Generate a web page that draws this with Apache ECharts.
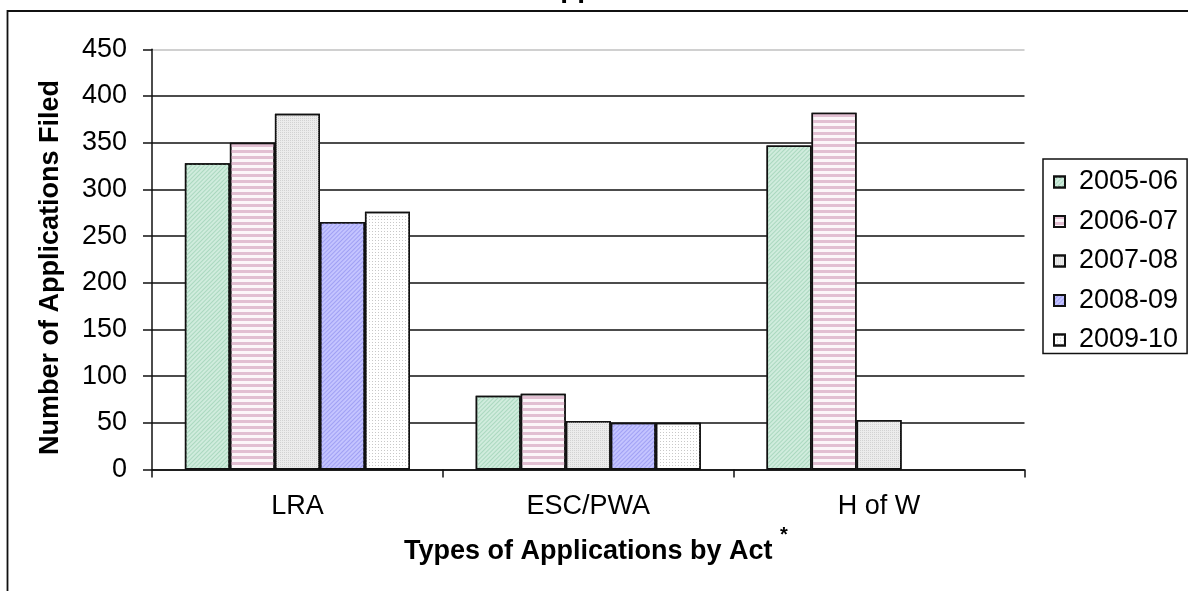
<!DOCTYPE html>
<html>
<head>
<meta charset="utf-8">
<script src="https://cdn.jsdelivr.net/npm/echarts@6/dist/echarts.min.js"></script>
<style>
html,body{margin:0;padding:0;background:#fff;}
#c{width:1188px;height:591px;}
</style>
</head>
<body>
<div id="c"></div>
<script>
var categories = ['LRA', 'ESC/PWA', 'H of W'];
var seriesNames = ['2005-06', '2006-07', '2007-08', '2008-09', '2009-10'];
var v2005 = [328, 79, 347];
var v2006 = [350, 81, 382];
var v2007 = [381, 52, 53];
var v2008 = [265, 50, null];
var v2009 = [276, 50, null];
var yTicks = [0, 50, 100, 150, 200, 250, 300, 350, 400, 450];

var FONT = '"Liberation Sans", Arial, sans-serif';
var values = [v2005, v2006, v2007, v2008, v2009];
var fills = [
  {color: '#d0ecdd', decal: {symbol: 'rect', symbolSize: 1, color: '#aad8bf', dashArrayX: [1, 0], dashArrayY: [1, 2], rotation: -Math.PI / 4}},
  {color: '#fcf6f9', decal: {symbol: 'rect', symbolSize: 1, color: '#e2bfd2', dashArrayX: [1, 0], dashArrayY: [3, 3], rotation: 0}},
  {color: '#ececec', decal: {symbol: 'rect', symbolSize: 1, color: '#d2d2d2', dashArrayX: [1, 1], dashArrayY: [1, 1], rotation: 0}},
  {color: '#c4c4ff', decal: {symbol: 'rect', symbolSize: 1, color: '#a0a0f4', dashArrayX: [1, 0], dashArrayY: [1, 2], rotation: -Math.PI / 4}},
  {color: '#ffffff', decal: {symbol: 'rect', symbolSize: 1, color: '#c8c8c8', dashArrayX: [1, 2], dashArrayY: [1, 2], rotation: 0}}
];

var series = seriesNames.map(function (n, i) {
  return {
    name: n,
    type: 'bar',
    data: values[i],
    barGap: '0%',
    barCategoryGap: '22.6%',
    itemStyle: {color: fills[i].color, decal: fills[i].decal, borderColor: '#111', borderWidth: 1.5},
    emphasis: {disabled: true},
    z: 3
  };
});

var gridColors = yTicks.map(function (t, i) { return i === yTicks.length - 1 ? '#c0c0c0' : '#111'; });

var chart = echarts.init(document.getElementById('c'), null, {renderer: 'canvas'});
chart.setOption({
  animation: false,
  backgroundColor: '#fff',
  textStyle: {fontFamily: FONT},
  grid: {left: 152, right: 163.5, top: 49.3, bottom: 121.5, containLabel: false},
  xAxis: {
    type: 'category',
    data: categories,
    name: 'Types of Applications by Act',
    nameLocation: 'middle',
    nameGap: 69,
    nameTextStyle: {fontSize: 27, fontWeight: 'bold', color: '#000', fontFamily: FONT},
    axisLine: {lineStyle: {color: '#111', width: 1.5}},
    axisTick: {show: true, length: 8, lineStyle: {color: '#111', width: 1.5}},
    axisLabel: {fontSize: 27, color: '#000', margin: 24, fontFamily: FONT},
    splitLine: {show: false}
  },
  yAxis: {
    type: 'value',
    min: 0,
    max: 450,
    interval: 50,
    name: 'Number of Applications Filed',
    nameLocation: 'middle',
    nameGap: 88,
    nameRotate: 90,
    nameTextStyle: {fontSize: 27, fontWeight: 'bold', color: '#000', fontFamily: FONT, padding: [0, 16, 0, 0]},
    axisLine: {show: true, lineStyle: {color: '#111', width: 1.5}},
    axisTick: {show: true, length: 9, lineStyle: {color: '#111', width: 1.5}},
    axisLabel: {fontSize: 27, color: '#000', margin: 25, fontFamily: FONT},
    splitLine: {show: true, lineStyle: {color: gridColors, width: 1.5}}
  },
  legend: {
    orient: 'vertical',
    left: 1043,
    top: 159,
    data: seriesNames,
    icon: 'rect',
    itemWidth: 11,
    itemHeight: 11,
    itemGap: 12.5,
    padding: [9.5, 9, 0, 10],
    borderColor: '#111',
    borderWidth: 1.5,
    textStyle: {fontSize: 27, color: '#000', padding: [0, 0, 0, 9], fontFamily: FONT},
    selectedMode: false
  },
  graphic: [
    {type: 'rect', z: -1, silent: true, shape: {x: 7.5, y: 11, width: 1300, height: 700}, style: {fill: 'none', stroke: '#111', lineWidth: 1.8}},
    {type: 'text', silent: true, style: {text: 'Applications', x: 540, y: 3, textAlign: 'left', textVerticalAlign: 'bottom', font: 'bold 28px ' + FONT, fill: '#000'}},
    {type: 'text', silent: true, style: {text: '*', x: 784, y: 535, textAlign: 'center', textVerticalAlign: 'middle', font: 'bold 20px ' + FONT, fill: '#000'}}
  ],
  series: series
});
</script>
</body>
</html>
